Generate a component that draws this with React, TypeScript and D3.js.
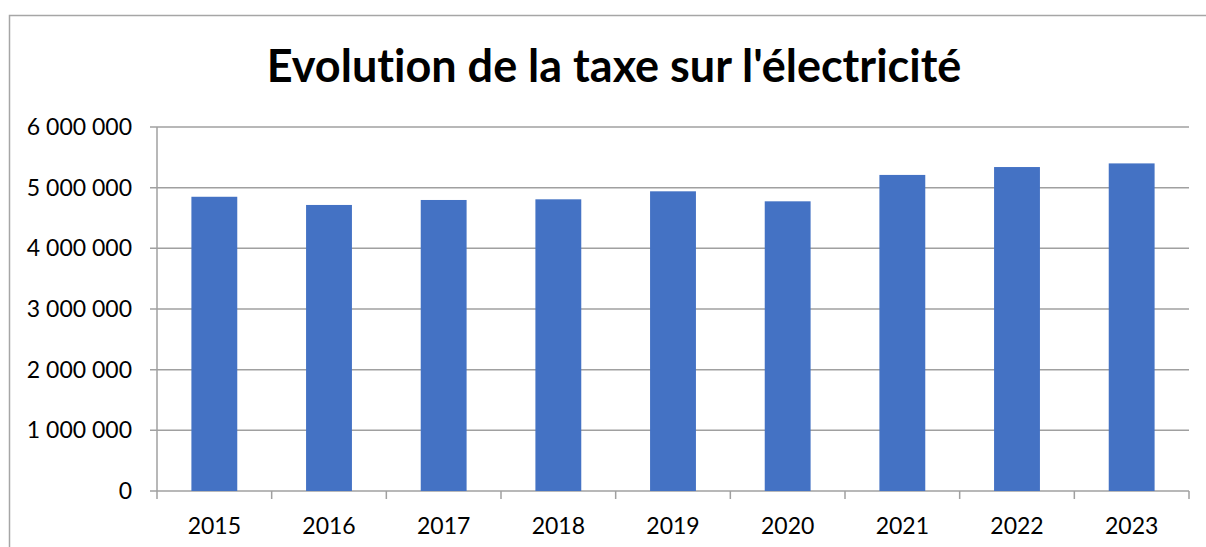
import React from "react";
import * as d3 from "d3";

const years = ["2015", "2016", "2017", "2018", "2019", "2020", "2021", "2022", "2023"];
const taxValues = [4850000, 4715000, 4797000, 4808000, 4940000, 4775000, 5210000, 5340000, 5400000];
const yTicks = [0, 1000000, 2000000, 3000000, 4000000, 5000000, 6000000];
const titleText = "Evolution de la taxe sur l'électricité";

const W = 1206;
const H = 547;
const left = 157;
const right = 1189;
const top = 127;
const bottom = 491;
const font = "Lato, 'Open Sans', sans-serif";

export default function App() {
  const x = d3.scaleBand<string>().domain(years).range([left, right]).paddingInner(0.6).paddingOuter(0.3);
  const xb = d3.scaleBand<string>().domain(years).range([left, right]);
  const y = d3.scaleLinear().domain([0, 6000000]).range([bottom, top]);
  const fmt = (v: number) => d3.format(",")(v).replace(/,/g, " ");

  return (
    <svg width={W} height={H} style={{ position: "absolute", left: 0, top: 0, background: "#fff" }}>
      <rect x={0} y={0} width={W} height={H} fill="#fff" />
      <path d={`M9.5,${H} V15.5 H${W}`} fill="none" stroke="#a6a6a6" strokeWidth={1.5} />
      <text x={614} y={82} textAnchor="middle" fontFamily={font} fontWeight={700} fontSize={45} fill="#000"
        style={{ fontVariantLigatures: "none", fontFeatureSettings: '"liga" 0' }}>
        {titleText}
      </text>
      {yTicks.map((t) => (
        <g key={t}>
          <line x1={left - 7} x2={right} y1={y(t)} y2={y(t)} stroke="#a0a0a0" strokeWidth={1.5} />
          <text x={132} y={y(t) + 8} textAnchor="end" fontFamily={font} fontSize={23} fill="#000">
            {fmt(t)}
          </text>
        </g>
      ))}
      <line x1={left} x2={left} y1={top} y2={bottom} stroke="#a0a0a0" strokeWidth={1.5} />
      {years.map((yr) => (
        <line key={"t" + yr} x1={xb(yr)!} x2={xb(yr)!} y1={bottom} y2={bottom + 8} stroke="#a0a0a0" strokeWidth={1.5} />
      ))}
      <line x1={right} x2={right} y1={bottom} y2={bottom + 8} stroke="#a0a0a0" strokeWidth={1.5} />
      {years.map((yr, i) => (
        <rect key={yr} x={x(yr)} y={y(taxValues[i])} width={x.bandwidth()} height={bottom - y(taxValues[i])} fill="#4472C4" />
      ))}
      {years.map((yr) => (
        <text key={"l" + yr} x={xb(yr)! + xb.bandwidth() / 2} y={534} textAnchor="middle" fontFamily={font} fontSize={23} fill="#000">
          {yr}
        </text>
      ))}
    </svg>
  );
}
